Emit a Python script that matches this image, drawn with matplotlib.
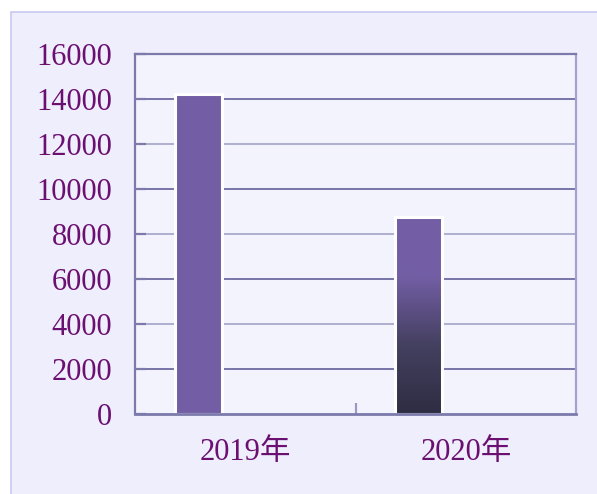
import numpy as np
import matplotlib
matplotlib.use("Agg")
import matplotlib.pyplot as plt
from matplotlib.patches import Rectangle
from matplotlib.colors import LinearSegmentedColormap

plt.rcParams['font.family'] = ['Liberation Serif', 'Noto Sans CJK SC', 'DejaVu Sans']

categories = ["2019年", "2020年"]
values = [14200, 8750]
n_series = 3  # chart reserves three bar slots per category; only the first carries data
y_ticks = [0, 2000, 4000, 6000, 8000, 10000, 12000, 14000, 16000]

W, H = 597, 494
fig = plt.figure(figsize=(W / 100, H / 100), dpi=100)
fig.patch.set_facecolor('white')

# outer panel
panel = Rectangle((11 / W, -0.02), 1 - 11 / W + 0.02, (H - 12) / H + 0.02, transform=fig.transFigure,
                  facecolor='#EFEEFD', edgecolor='#C8C8F2', linewidth=1.2, zorder=-5)
fig.patches.append(panel)

ax = fig.add_axes([135 / W, (H - 414) / H, 441 / W, 360 / H])
ax.set_zorder(2)
ax.set_facecolor('#F3F3FE')
ax.set_xlim(-0.5, len(categories) - 0.5)
ax.set_ylim(0, 16000)

# gridlines
grid_dark = '#6E6AA2'
grid_light = '#A8A8CC'
for i, yv in enumerate(y_ticks[1:-1]):
    c = grid_dark if (i % 2 == 0) else grid_light
    ax.axhline(yv, color=c, linewidth=1.3, zorder=1)

bw = 0.213
x = np.arange(len(categories))
offset = -bw * (n_series - 1) / 2
bar_color = '#735EA5'
bars = ax.bar(x + offset, values, width=bw, color=bar_color, edgecolor='white',
              linewidth=2.2, zorder=3)

# gradient on the second bar
b = bars[1]
b.set_facecolor('none')
b.set_zorder(5)
cmap = LinearSegmentedColormap.from_list('g', [(0.0, '#2E2D42'), (0.35, '#444060'),
                                             (0.70, '#735EA5'), (1.0, '#735EA5')])
grad = np.linspace(0, 1, 256).reshape(-1, 1)
x0, y0 = b.get_x(), b.get_y()
im = ax.imshow(grad, cmap=cmap, origin='lower', aspect='auto',
               extent=(x0, x0 + b.get_width(), y0, y0 + b.get_height()), zorder=4)
clip = Rectangle((x0, y0), b.get_width(), b.get_height(), transform=ax.transData)
im.set_clip_path(clip)
ax.set_xlim(-0.5, len(categories) - 0.5)
ax.set_ylim(0, 16000)

# spines
for s in ['left', 'top', 'bottom']:
    ax.spines[s].set_color('#7C7AAA')
    ax.spines[s].set_linewidth(1.6)
ax.spines['right'].set_color('#A4A2CC')
ax.spines['right'].set_linewidth(1.6)
ax.spines['bottom'].set_linewidth(2.0)
for s in ax.spines.values():
    s.set_zorder(6)

text_color = '#6B1070'
ax.set_yticks(y_ticks)
ax.set_yticklabels([str(v) for v in y_ticks])
ax.tick_params(axis='y', direction='in', length=8, width=1.6, color='#7C7AAA',
               labelsize=22, labelcolor=text_color, pad=16.5)
ax.set_xticks(x)
ax.set_xticklabels(categories)
ax.tick_params(axis='x', which='major', length=0, labelsize=22, labelcolor=text_color, pad=17)
ax.set_xticks([0.5], minor=True)
ax.tick_params(axis='x', which='minor', direction='in', length=8, width=1.6, color='#9A98C4')

fig.savefig('out.png', dpi=100, facecolor=fig.get_facecolor())
